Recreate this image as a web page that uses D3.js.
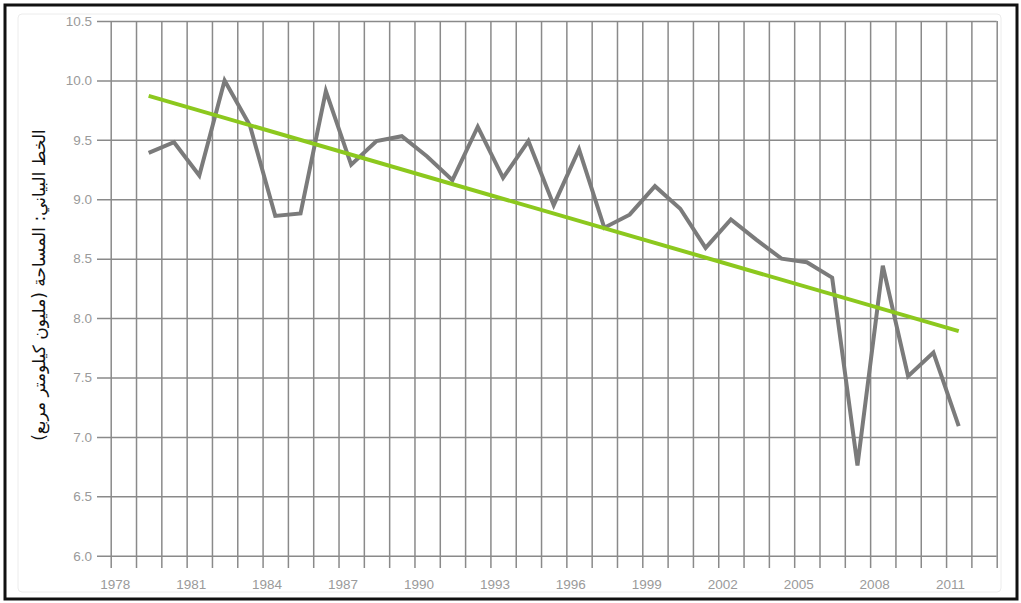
<!DOCTYPE html>
<html>
<head>
<meta charset="utf-8">
<script src="https://cdn.jsdelivr.net/npm/d3@7"></script>
<style>
  body { margin: 0; background: #fff; }
  svg { display: block; }
</style>
</head>
<body>
<div id="chart"></div>
<script>
// Data (area, million km²)
const years = d3.range(1979, 2012)
const areas = [9.39, 9.48, 9.20, 10.00, 9.62, 8.86, 8.88, 9.91, 9.29, 9.49,
               9.53, 9.36, 9.16, 9.61, 9.18, 9.49, 8.95, 9.42, 8.76, 8.87,
               9.11, 8.92, 8.59, 8.83, 8.66, 8.50, 8.47, 8.34, 6.76, 8.44,
               7.51, 7.71, 7.09]

// Trend line end points
const trendYears = [1979, 2011]
const trendValues = [9.87, 7.89]

// Axis ticks
const gridYears = d3.range(1978, 2014)
const labelYears = [1978, 1981, 1984, 1987, 1990, 1993, 1996, 1999, 2002, 2005, 2008, 2011]
const yTicks = [6.0, 6.5, 7.0, 7.5, 8.0, 8.5, 9.0, 9.5, 10.0, 10.5]

const yTitle = "الخط البياني: المساحة (مليون كيلومتر مربع)"

const w = 1021
const h = 603

const svg = d3.select("#chart")
    .append("svg")
    .attr("width", w)
    .attr("height", h)

// Outer frame
svg.append("rect")
    .attr("x", 5).attr("y", 5)
    .attr("width", 1012).attr("height", 594)
    .attr("fill", "#fff")
    .attr("stroke", "#111")
    .attr("stroke-width", 3)

// faint inner frame
svg.append("rect")
    .attr("x", 18).attr("y", 14)
    .attr("width", 983).attr("height", 578)
    .attr("rx", 4)
    .attr("fill", "none")
    .attr("stroke", "#ececec")
    .attr("stroke-width", 1)

// Scales
const plotLeft = 110.7, plotRight = 996.7, plotTop = 21, plotBottom = 555.7
const x = d3.scaleLinear().domain([1978, 2013]).range([plotLeft, plotRight])
const y = d3.scaleLinear().domain([6, 10.5]).range([plotBottom, plotTop])

const gridCol = "#8a8a8a"
const labelCol = "#9a9a9a"

// Horizontal grid + y labels
const yAxis = d3.axisLeft(y)
    .tickValues(yTicks)
    .tickSize(plotRight - 97)
    .tickPadding(5)
    .tickFormat(d3.format(".1f"))

svg.append("g")
    .attr("transform", "translate(" + plotRight + ",0)")
    .call(yAxis)
    .call(g => g.select(".domain").remove())
    .call(g => g.selectAll("line").attr("stroke", gridCol).attr("stroke-width", 1.5))
    .call(g => g.selectAll("text")
        .attr("fill", labelCol)
        .style("font-family", "'Liberation Sans', Arial, sans-serif")
        .style("font-size", "13.5px"))

// Vertical grid + year labels
const xAxis = d3.axisBottom(x)
    .tickValues(gridYears)
    .tickSize(568 - plotTop)
    .tickPadding(11)
    .tickFormat(d => labelYears.includes(d) ? String(d) : "")

svg.append("g")
    .attr("transform", "translate(0," + plotTop + ")")
    .call(xAxis)
    .call(g => g.select(".domain").remove())
    .call(g => g.selectAll("line").attr("stroke", gridCol).attr("stroke-width", 1.5))
    .call(g => g.selectAll("text")
        .attr("dx", 4)
        .attr("fill", labelCol)
        .style("font-family", "'Liberation Sans', Arial, sans-serif")
        .style("font-size", "13.5px"))

// Data line
const line = d3.line()
    .x(d => x(d[0] + 0.5))
    .y(d => y(d[1]))

svg.append("path")
    .datum(d3.zip(years, areas))
    .attr("d", line)
    .attr("fill", "none")
    .attr("stroke", "#7b7b7b")
    .attr("stroke-width", 4)
    .attr("stroke-linejoin", "miter")

// Trend line
svg.append("path")
    .datum(d3.zip(trendYears, trendValues))
    .attr("d", line)
    .attr("fill", "none")
    .attr("stroke", "#8cc81e")
    .attr("stroke-width", 4)

// Y title (Arabic, rotated)
svg.append("text")
    .attr("transform", "translate(40,285) rotate(-90)")
    .attr("text-anchor", "middle")
    .attr("dominant-baseline", "middle")
    .attr("direction", "rtl")
    .attr("fill", "#111")
    .style("font-family", "'DejaVu Sans', sans-serif")
    .style("font-size", "17px")
    .text(yTitle)
</script>
</body>
</html>
